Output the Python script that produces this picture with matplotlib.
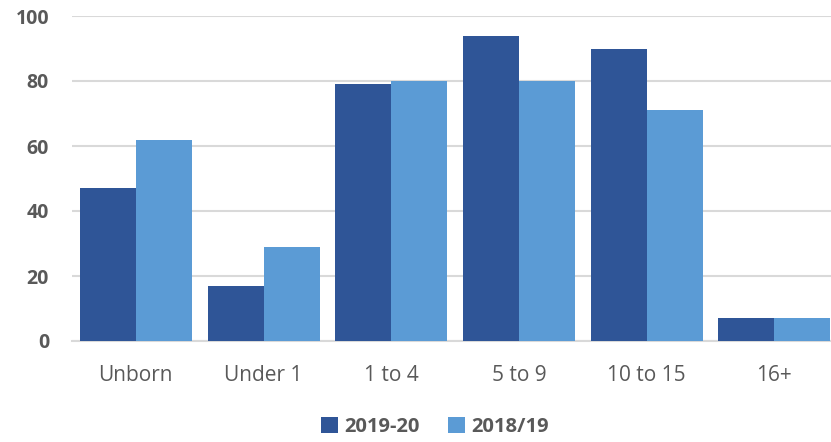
import matplotlib
matplotlib.use("Agg")
import matplotlib.pyplot as plt
import numpy as np

categories = ["Unborn", "Under 1", "1 to 4", "5 to 9", "10 to 15", "16+"]
series_2019 = [47, 17, 79, 94, 90, 7]
series_2018 = [62, 29, 80, 80, 71, 7]
yticks = [0, 20, 40, 60, 80, 100]

plt.rcParams["font.family"] = ["Open Sans", "DejaVu Sans"]
GRAY = "#595959"

fig = plt.figure(figsize=(8.31, 4.42), dpi=100)
ax = fig.add_axes([72 / 831, 1 - 341 / 442, 1 - 72 / 831, (341 - 16) / 442])

x = np.arange(len(categories))
w = 0.4385
ax.bar(x - w / 2, series_2019, w, color="#2F5597", label="2019-20", zorder=3)
ax.bar(x + w / 2, series_2018, w, color="#5B9BD5", label="2018/19", zorder=3)

ax.set_xlim(-0.5, 5.444)
ax.set_ylim(0, 100)
ax.set_yticks(yticks)
ax.set_yticklabels([str(v) for v in yticks], fontsize=14, fontweight="bold", color=GRAY)
ax.set_xticks(x)
ax.set_xticklabels(categories, fontsize=15, color=GRAY)
ax.tick_params(axis="both", length=0)
ax.tick_params(axis="y", pad=16.5)
ax.tick_params(axis="x", pad=17)
ax.grid(axis="y", color="#d9d9d9", lw=1.5, zorder=0)
for s in ["top", "right", "left"]:
    ax.spines[s].set_visible(False)
ax.spines["bottom"].set_color("#d9d9d9")
ax.spines["bottom"].set_linewidth(1.5)

leg = fig.legend(loc="center", bbox_to_anchor=(435 / 831, 1 - 427 / 442), ncol=2,
                 frameon=False, handlelength=0.85, handleheight=0.85, handletextpad=0.3,
                 columnspacing=1.4, prop={"size": 14.5, "weight": "bold"})
for t in leg.get_texts():
    t.set_color(GRAY)

fig.savefig("out.png", dpi=100)
